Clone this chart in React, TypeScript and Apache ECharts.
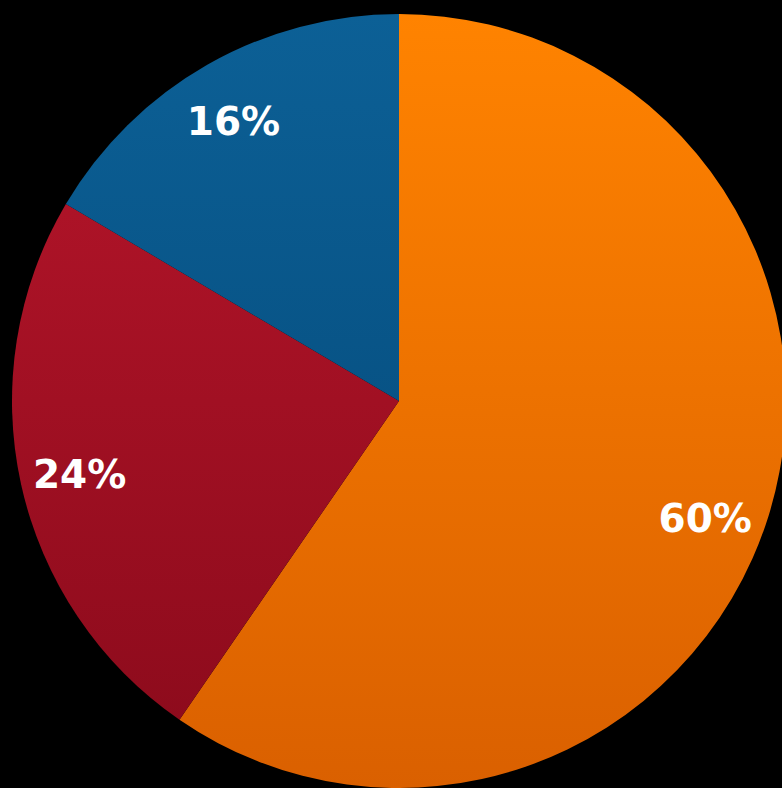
import React, { useEffect, useRef } from "react";
import * as echarts from "echarts";

const categories = ["A", "B", "C"];
const values = [59.6, 23.9, 16.5];
const labels = ["60%", "24%", "16%"];
const topColors = ["#FF8300", "#B8162B", "#0C6096"];
const bottomColors = ["#DA6000", "#8A0A1B", "#034675"];

export default function App() {
  const ref = useRef<HTMLDivElement>(null);
  useEffect(() => {
    if (!ref.current) return;
    const chart = echarts.init(ref.current, undefined, { renderer: "svg" });
    const R = 387;
    const cx = 399;
    const cy = 401;
    const labelOffsets = [
      [-7, 20],
      [1, 3],
      [-3, 5],
    ];
    const data = categories.map((name, i) => ({
      name,
      value: values[i],
      itemStyle: {
        color: {
          type: "linear",
          x: 0,
          y: cy - R,
          x2: 0,
          y2: cy + R,
          global: true,
          colorStops: [
            { offset: 0, color: topColors[i] },
            { offset: 1, color: bottomColors[i] },
          ],
        },
      },
    }));
    chart.setOption({
      animation: false,
      backgroundColor: "#000000",
      series: [
        {
          type: "pie",
          center: [cx, cy],
          radius: [0, R],
          startAngle: 90,
          clockwise: true,
          silent: true,
          label: { show: false },
          labelLine: { show: false },
          data,
        },
        {
          type: "pie",
          center: [cx, cy],
          radius: [R * 0.68, R],
          startAngle: 90,
          clockwise: true,
          silent: true,
          itemStyle: { color: "transparent" },
          label: {
            show: true,
            position: "inside",
            color: "#ffffff",
            fontSize: 39,
            fontWeight: "bold",
            fontFamily: "DejaVu Sans",
          },
          labelLine: { show: false },
          data: categories.map((name, i) => ({
            name,
            value: values[i],
            label: { formatter: labels[i], offset: labelOffsets[i] },
          })),
        },
      ],
    });
    return () => chart.dispose();
  }, []);
  return (
    <div
      ref={ref}
      style={{ position: "fixed", left: 0, top: 0, width: 782, height: 788 }}
    />
  );
}
